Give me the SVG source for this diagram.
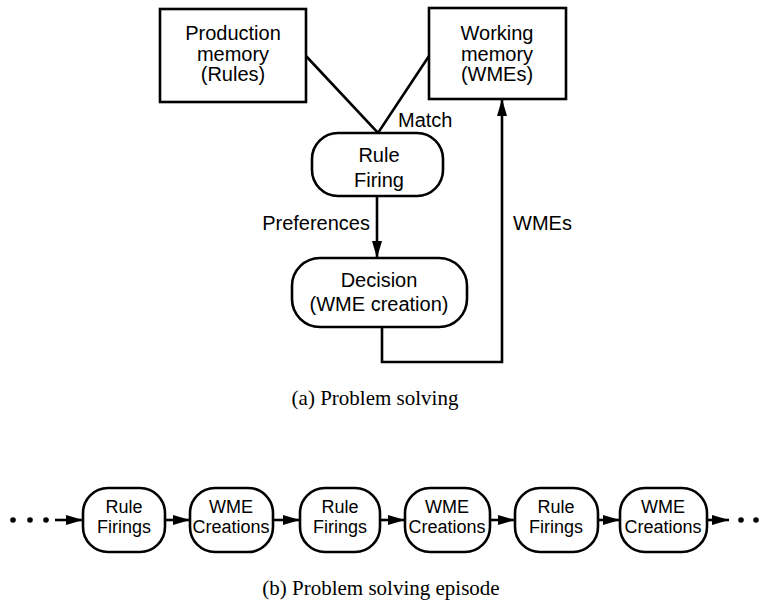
<svg xmlns="http://www.w3.org/2000/svg" width="764" height="609" viewBox="0 0 764 609">
  <style>
    .box { fill: #fff; stroke: #000; stroke-width: 2.6; }
    .wire { fill: none; stroke: #000; stroke-width: 2.6; }
    .lbl { font-family: "Liberation Sans", Arial, sans-serif; font-size: 20px; fill: #000; text-anchor: middle; }
    .small { font-family: "Liberation Sans", Arial, sans-serif; font-size: 18px; fill: #000; text-anchor: middle; }
    .edge { font-family: "Liberation Sans", Arial, sans-serif; font-size: 20px; fill: #000; }
    .cap { font-family: "Liberation Serif", "Times New Roman", serif; font-size: 21px; fill: #000; text-anchor: middle; }
    .dot { fill: #000; }
  </style>
  <defs>
    <marker id="head" markerUnits="userSpaceOnUse" markerWidth="18" markerHeight="12" refX="17" refY="5" orient="auto">
      <path d="M0,0 L17,5 L0,10 z" fill="#000"/>
    </marker>
  </defs>

  <rect width="764" height="609" fill="#fff"/>

  <!-- connectors -->
  <g id="connectors">
    <polyline class="wire" points="306,56 378,133 429,56"/>
    <line class="wire" x1="377" y1="196" x2="377" y2="258" marker-end="url(#head)"/>
    <polyline class="wire" points="382,327 382,362 502,362 502,99" marker-end="url(#head)"/>
    <!-- episode chain -->
    <line class="wire" x1="55" y1="520" x2="83" y2="520" marker-end="url(#head)"/>
    <line class="wire" x1="165" y1="520" x2="190" y2="520" marker-end="url(#head)"/>
    <line class="wire" x1="273" y1="520" x2="300" y2="520" marker-end="url(#head)"/>
    <line class="wire" x1="380" y1="520" x2="405" y2="520" marker-end="url(#head)"/>
    <line class="wire" x1="490" y1="520" x2="515" y2="520" marker-end="url(#head)"/>
    <line class="wire" x1="598" y1="520" x2="620" y2="520" marker-end="url(#head)"/>
    <line class="wire" x1="707" y1="520" x2="729" y2="520" marker-end="url(#head)"/>
    <circle class="dot" cx="13" cy="520" r="2.8"/>
    <circle class="dot" cx="30" cy="520" r="2.8"/>
    <circle class="dot" cx="46" cy="520" r="2.8"/>
    <circle class="dot" cx="741" cy="520" r="2.8"/>
    <circle class="dot" cx="756" cy="520" r="2.8"/>
  </g>

  <!-- edge labels -->
  <text class="edge" x="398" y="127">Match</text>
  <text class="edge" x="370" y="230" text-anchor="end">Preferences</text>
  <text class="edge" x="513" y="230">WMEs</text>

  <!-- (a) problem solving -->
  <g id="production-memory">
    <rect class="box" x="160" y="9" width="146" height="93"/>
    <text class="lbl" x="233" y="40">Production</text>
    <text class="lbl" x="233" y="61">memory</text>
    <text class="lbl" x="233" y="81">(Rules)</text>
  </g>
  <g id="working-memory">
    <rect class="box" x="429" y="8" width="137" height="91"/>
    <text class="lbl" x="497" y="40">Working</text>
    <text class="lbl" x="497" y="61">memory</text>
    <text class="lbl" x="497" y="81">(WMEs)</text>
  </g>
  <g id="rule-firing">
    <rect class="box" x="312" y="133" width="131" height="63" rx="26" ry="26"/>
    <text class="lbl" x="379" y="162">Rule</text>
    <text class="lbl" x="379" y="187">Firing</text>
  </g>
  <g id="decision">
    <rect class="box" x="292" y="258" width="175" height="69" rx="28" ry="28"/>
    <text class="lbl" x="379" y="287">Decision</text>
    <text class="lbl" x="379" y="311">(WME creation)</text>
  </g>
  <text class="cap" x="375" y="405">(a) Problem solving</text>

  <!-- (b) problem solving episode -->
  <g id="ep-rule-1">
    <rect class="box" x="83" y="488" width="82" height="64" rx="25" ry="25"/>
    <text class="small" x="124" y="513">Rule</text>
    <text class="small" x="124" y="533">Firings</text>
  </g>
  <g id="ep-wme-1">
    <rect class="box" x="190" y="488" width="83" height="64" rx="25" ry="25"/>
    <text class="small" x="231" y="513">WME</text>
    <text class="small" x="231" y="533">Creations</text>
  </g>
  <g id="ep-rule-2">
    <rect class="box" x="300" y="488" width="80" height="64" rx="25" ry="25"/>
    <text class="small" x="340" y="513">Rule</text>
    <text class="small" x="340" y="533">Firings</text>
  </g>
  <g id="ep-wme-2">
    <rect class="box" x="405" y="488" width="85" height="64" rx="25" ry="25"/>
    <text class="small" x="447" y="513">WME</text>
    <text class="small" x="447" y="533">Creations</text>
  </g>
  <g id="ep-rule-3">
    <rect class="box" x="515" y="488" width="83" height="64" rx="25" ry="25"/>
    <text class="small" x="556" y="513">Rule</text>
    <text class="small" x="556" y="533">Firings</text>
  </g>
  <g id="ep-wme-3">
    <rect class="box" x="620" y="488" width="87" height="64" rx="25" ry="25"/>
    <text class="small" x="663" y="513">WME</text>
    <text class="small" x="663" y="533">Creations</text>
  </g>
  <text class="cap" x="381" y="595">(b) Problem solving episode</text>
</svg>
